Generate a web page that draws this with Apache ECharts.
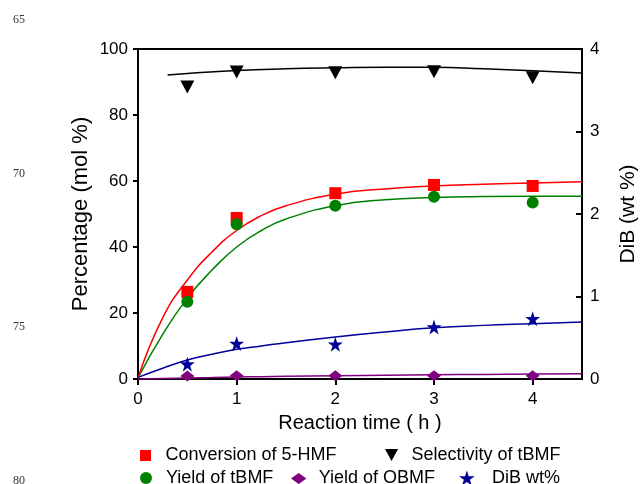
<!DOCTYPE html>
<html>
<head>
<meta charset="utf-8">
<script src="https://cdn.jsdelivr.net/npm/echarts@6/dist/echarts.min.js"></script>
<style>
html,body{margin:0;padding:0;background:#fff;}
#chart{width:641px;height:484px;}
</style>
</head>
<body>
<div id="chart"></div>
<script>
// Measured data points
const timePts = [0.5, 1, 2, 3, 4];
const conversion = [26.4, 48.8, 56.3, 58.8, 58.5];
const selectivity = [88.5, 93.0, 92.8, 93.1, 91.3];
const yieldTBMF = [23.4, 46.9, 52.5, 55.2, 53.5];
const yieldOBMF = [0.9, 1.0, 1.0, 1.0, 1.0];
const dibWt = [0.18, 0.43, 0.42, 0.63, 0.73];

// Fitted curves
const fitTime = [0, 0.25, 0.5, 0.75, 1, 1.25, 1.5, 2, 2.5, 3, 3.5, 4, 4.5];
const fitConversion = [0.3, 18.5, 30, 38.5, 45, 49.5, 52.5, 56, 57.6, 58.5, 59, 59.4, 59.8];
const fitYieldTBMF = [0.3, 13.5, 24.5, 33, 40, 45, 48.5, 52.5, 54.3, 55, 55.3, 55.4, 55.4];
const fitDiB = [0.02, 0.13, 0.23, 0.3, 0.36, 0.4, 0.44, 0.51, 0.57, 0.62, 0.65, 0.67, 0.69];
const fitOBMF = [0, 0.15, 0.3, 0.45, 0.6, 0.7, 0.8, 1.0, 1.15, 1.3, 1.4, 1.5, 1.6];
const selFitTime = [0.3, 0.5, 1, 1.5, 2, 2.5, 3, 3.5, 4, 4.5];
const fitSelectivity = [92.1, 92.6, 93.5, 94.0, 94.3, 94.5, 94.5, 94.0, 93.4, 92.7];

// Axis ticks
const xTicks = [0, 1, 2, 3, 4];
const lineNumbers = ['65', '70', '75', '80'];

const names = {
  conv: 'Conversion of 5-HMF',
  sel: 'Selectivity of tBMF',
  ytb: 'Yield of tBMF',
  yob: 'Yield of OBMF',
  dib: 'DiB wt%'
};

const FONT = 'Liberation Sans, Arial, sans-serif';
const zip = (xs, ys) => xs.map((x, i) => [x, ys[i]]);

const icons = {
  square: 'path://M0,0L10,0L10,10L0,10Z',
  tri: 'path://M0,0L12,0L6,11Z',
  diamond: 'path://M7,0L14,5L7,10L0,5Z',
  star: 'path://M50,0L61.2,34.5L97.6,34.5L68.2,55.9L79.4,90.5L50,69.1L20.6,90.5L31.8,55.9L2.4,34.5L38.8,34.5Z'
};

function legendItem(name, icon, left, cy, w, h) {
  return {
    data: [name], icon: icon, left: left, top: cy - h / 2,
    itemWidth: w, itemHeight: h, padding: 0, itemGap: 0,
    selectedMode: false,
    itemStyle: { opacity: 1 },
    textStyle: { fontFamily: FONT, fontSize: 18, color: '#000' }
  };
}

function fitLine(name, data, color, yIdx) {
  return {
    name: name, type: 'line', data: data, yAxisIndex: yIdx || 0,
    smooth: true, showSymbol: false, symbol: 'none',
    lineStyle: { color: color, width: 1.5 }, z: 2, silent: true
  };
}

function markers(name, data, symbol, size, color, yIdx, z) {
  return {
    name: name, type: 'scatter', data: data, yAxisIndex: yIdx || 0,
    symbol: symbol, symbolSize: size, symbolKeepAspect: false,
    itemStyle: { color: color, opacity: 1 }, z: z || 5
  };
}

const chart = echarts.init(document.getElementById('chart'), null, { renderer: 'canvas' });

const axisLineStyle = { lineStyle: { color: '#000', width: 2 } };

chart.setOption({
  animation: false,
  backgroundColor: '#fff',
  grid: { left: 138, right: 59, top: 49, bottom: 105, show: true, borderColor: '#000', borderWidth: 2,
          containLabel: false, outerBoundsMode: 'none' },
  xAxis: {
    type: 'value', min: 0, max: 4.5, interval: 1,
    name: 'Reaction time ( h )', nameLocation: 'middle', nameGap: 34, nameMoveOverlap: false,
    nameTextStyle: { fontFamily: FONT, fontSize: 20, color: '#000' },
    axisLine: axisLineStyle,
    axisTick: { show: true, length: 6, lineStyle: { color: '#000', width: 2 }, customValues: xTicks },
    axisLabel: { fontFamily: FONT, fontSize: 17, color: '#000', margin: 12, customValues: xTicks },
    splitLine: { show: false }
  },
  yAxis: [
    {
      type: 'value', min: 0, max: 100, interval: 20, position: 'left',
      name: 'Percentage (mol %)', nameLocation: 'middle', nameGap: 46, nameRotate: 90, nameMoveOverlap: false,
      nameTextStyle: { fontFamily: FONT, fontSize: 22, color: '#000' },
      axisLine: { show: true, lineStyle: { color: '#000', width: 2 } },
      axisTick: { show: true, length: 5, lineStyle: { color: '#000', width: 2 } },
      axisLabel: { fontFamily: FONT, fontSize: 17, color: '#000', margin: 10 },
      splitLine: { show: false }
    },
    {
      type: 'value', min: 0, max: 4, interval: 1, position: 'right',
      name: 'DiB (wt %)', nameLocation: 'middle', nameGap: 36, nameRotate: 90, nameMoveOverlap: false,
      nameTextStyle: { fontFamily: FONT, fontSize: 21, color: '#000' },
      axisLine: { show: true, lineStyle: { color: '#000', width: 2 } },
      axisTick: { show: true, inside: true, length: 6, lineStyle: { color: '#000', width: 2 } },
      axisLabel: { fontFamily: FONT, fontSize: 17, color: '#000', margin: 8 },
      splitLine: { show: false }
    }
  ],
  legend: [
    legendItem(names.conv, icons.square, 140, 452, 30, 11),
    legendItem(names.sel, icons.tri, 385, 452, 30, 12),
    legendItem(names.ytb, 'circle', 140, 475, 30, 12),
    legendItem(names.yob, icons.diamond, 291, 475, 30, 11),
    legendItem(names.dib, icons.star, 459, 476.5, 40, 15)
  ],
  graphic: lineNumbers.map((t, i) => ({
    type: 'text', left: 13, top: 14 + i * 153.5,
    style: { text: t, font: '12px "Liberation Serif", "Times New Roman", serif', fill: '#333' }
  })),
  series: [
    fitLine('fit-sel', zip(selFitTime, fitSelectivity), '#000'),
    fitLine('fit-ytb', zip(fitTime, fitYieldTBMF), '#008000'),
    fitLine('fit-conv', zip(fitTime, fitConversion), '#ff0000'),
    fitLine('fit-dib', zip(fitTime, fitDiB), '#000099', 1),
    fitLine('fit-yob', zip(fitTime, fitOBMF), '#800080'),
    markers(names.sel, zip(timePts, selectivity), icons.tri, [14, 13], '#000'),
    markers(names.conv, zip(timePts, conversion), 'rect', 12, '#ff0000'),
    markers(names.ytb, zip(timePts, yieldTBMF), 'circle', 12, '#008000', 0, 6),
    markers(names.yob, zip(timePts, yieldOBMF), 'diamond', [14, 11], '#800080'),
    markers(names.dib, zip(timePts, dibWt), icons.star, 15, '#000099', 1)
  ]
});
</script>
</body>
</html>
